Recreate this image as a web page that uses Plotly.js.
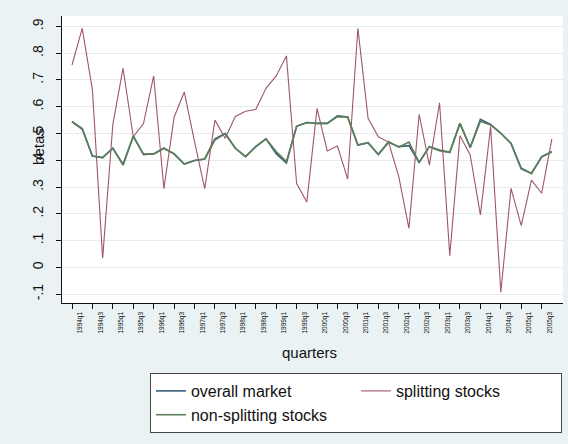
<!DOCTYPE html>
<html>
<head>
<meta charset="utf-8">
<script src="https://cdn.plot.ly/plotly-3.0.1.min.js"></script>
<style>
  html, body { margin: 0; padding: 0; background: #eaf2f3; }
  #chart { width: 568px; height: 444px; }
</style>
</head>
<body>
<div id="chart"></div>
<script>
// Quarterly betas, 1994q1 - 2005q4
const quarters = [
  "1994q1","1994q2","1994q3","1994q4","1995q1","1995q2","1995q3","1995q4",
  "1996q1","1996q2","1996q3","1996q4","1997q1","1997q2","1997q3","1997q4",
  "1998q1","1998q2","1998q3","1998q4","1999q1","1999q2","1999q3","1999q4",
  "2000q1","2000q2","2000q3","2000q4","2001q1","2001q2","2001q3","2001q4",
  "2002q1","2002q2","2002q3","2002q4","2003q1","2003q2","2003q3","2003q4",
  "2004q1","2004q2","2004q3","2004q4","2005q1","2005q2","2005q3","2005q4"
];

const overallMarket = [
  0.544, 0.519, 0.416, 0.410, 0.445, 0.385, 0.490, 0.422, 0.424, 0.445,
  0.424, 0.386, 0.399, 0.405, 0.480, 0.500, 0.445, 0.414, 0.451, 0.480,
  0.425, 0.390, 0.527, 0.541, 0.538, 0.538, 0.566, 0.562, 0.457, 0.466,
  0.422, 0.467, 0.451, 0.455, 0.392, 0.451, 0.438, 0.430, 0.538, 0.448,
  0.553, 0.534, 0.501, 0.463, 0.370, 0.351, 0.414, 0.432
];

const splittingStocks = [
  0.756, 0.893, 0.663, 0.034, 0.534, 0.744, 0.488, 0.537, 0.715, 0.294,
  0.561, 0.655, 0.470, 0.294, 0.550, 0.482, 0.564, 0.583, 0.590, 0.669,
  0.715, 0.790, 0.313, 0.244, 0.594, 0.435, 0.453, 0.330, 0.893, 0.557,
  0.488, 0.468, 0.340, 0.146, 0.572, 0.382, 0.615, 0.044, 0.492, 0.420,
  0.196, 0.526, -0.093, 0.295, 0.156, 0.326, 0.277, 0.480
];

const nonSplittingStocks = [
  0.544, 0.516, 0.416, 0.410, 0.445, 0.382, 0.490, 0.422, 0.424, 0.445,
  0.424, 0.386, 0.399, 0.405, 0.476, 0.500, 0.445, 0.414, 0.451, 0.480,
  0.433, 0.395, 0.527, 0.541, 0.538, 0.538, 0.563, 0.562, 0.457, 0.466,
  0.422, 0.470, 0.449, 0.468, 0.392, 0.451, 0.436, 0.430, 0.538, 0.448,
  0.546, 0.532, 0.501, 0.463, 0.368, 0.351, 0.412, 0.432
];

const yTickVals = [-0.1, 0, 0.1, 0.2, 0.3, 0.4, 0.5, 0.6, 0.7, 0.8, 0.9];
const yTickText = ["-.1", "0", ".1", ".2", ".3", ".4", ".5", ".6", ".7", ".8", ".9"];

// label every second quarter
const xTickVals = quarters.filter((q, i) => i % 2 === 0);

const FONT = "Liberation Sans, Arial, sans-serif";

const traces = [
  { x: quarters, y: overallMarket, name: "overall market", type: "scatter", mode: "lines",
    line: { color: "#35607a", width: 1.6 } },
  { x: quarters, y: splittingStocks, name: "splitting stocks", type: "scatter", mode: "lines",
    line: { color: "#a0566a", width: 1.1 } },
  { x: quarters, y: nonSplittingStocks, name: "non-splitting stocks", type: "scatter", mode: "lines",
    line: { color: "#5f7f58", width: 1.6 } }
];

const layout = {
  width: 568, height: 444,
  margin: { l: 62, r: 5, t: 16, b: 141, pad: 0, autoexpand: false },
  paper_bgcolor: "#eaf2f3",
  plot_bgcolor: "#ffffff",
  font: { family: FONT, color: "#111" },
  showlegend: true,
  xaxis: {
    type: "category", range: [-0.98, 48.09],
    tickmode: "array", tickvals: xTickVals, ticktext: xTickVals,
    ticks: "outside", ticklen: 5, tickcolor: "#111", tickwidth: 1,
    tickangle: -90, tickfont: { size: 6.5, color: "#111" }, ticklabelshift: 8,
    showline: true, linecolor: "#111", linewidth: 1.3,
    showgrid: false, zeroline: false
  },
  yaxis: {
    range: [-0.133, 0.939],
    tickmode: "array", tickvals: yTickVals, ticktext: yTickText,
    ticks: "outside", ticklen: 5, tickcolor: "#111", tickwidth: 1,
    tickangle: -90, tickfont: { size: 14, color: "#111" }, ticklabelstandoff: 7,
    showline: true, linecolor: "#111", linewidth: 1.3,
    showgrid: true, gridcolor: "#e4ecee", gridwidth: 1, zeroline: false
  },
  legend: {
    orientation: "h", x: 0.1756, xanchor: "left", y: -0.2439, yanchor: "top",
    bgcolor: "#ffffff", bordercolor: "#444", borderwidth: 1,
    font: { size: 16, color: "#111" }, entrywidth: 160, traceorder: "normal"
  },
  annotations: [
    { text: "betas", textangle: -90, xref: "paper", yref: "paper",
      x: -0.048, y: 0.547, xanchor: "center", yanchor: "middle",
      showarrow: false, font: { size: 15, color: "#111" } },
    { text: "quarters", xref: "paper", yref: "paper",
      x: 0.495, y: -0.171, xanchor: "center", yanchor: "middle",
      showarrow: false, font: { size: 15, color: "#111" } }
  ]
};

Plotly.newPlot("chart", traces, layout, { displayModeBar: false, staticPlot: true });
</script>
</body>
</html>
